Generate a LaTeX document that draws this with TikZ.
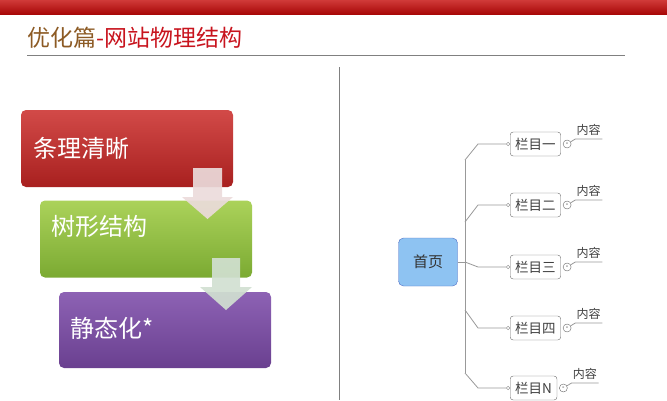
\documentclass[tikz,border=0pt]{standalone}
\usepackage{fontspec}
\setmainfont{Noto Sans CJK SC}
\usetikzlibrary{positioning}

\definecolor{barred}{HTML}{A80808}
\definecolor{bartop}{HTML}{D03A38}
\definecolor{titlebrown}{HTML}{8C5A24}
\definecolor{titlered}{HTML}{C8141E}
\definecolor{redtop}{HTML}{D24A48}
\definecolor{redbot}{HTML}{A8201F}
\definecolor{greentop}{HTML}{ABD25A}
\definecolor{greenbot}{HTML}{7BAA32}
\definecolor{purpletop}{HTML}{8D62B4}
\definecolor{purplebot}{HTML}{6A4090}
\definecolor{homeblue}{HTML}{8EC3F2}

\begin{document}
\begin{tikzpicture}[x=1pt, y=-1pt,
  bigbox/.style = {shape = rectangle, rounded corners = 5pt, minimum width = 212pt, minimum height = 77pt},
  bigtext/.style = {anchor = west, text = white, font = \fontsize{24}{28}\selectfont},
  colbox/.style = {draw = gray!85!black, fill = white, rounded corners = 3pt, anchor = west, minimum height = 24pt, inner xsep = 5pt, text = black!75, font = \fontsize{13.5}{15}\selectfont},
  knob/.style = {draw = gray, fill = white, shape = circle, inner sep = 0pt, minimum size = 3.5pt},
  minus/.style = {draw = gray!80!black, fill = white, shape = circle, inner sep = 0pt, minimum size = 8pt, font = \fontsize{7}{7}\selectfont},
  leaf/.style = {text = black!75, inner sep = 0pt, font = \fontsize{12}{13}\selectfont},
  link/.style = {draw = gray!80, line width = 0.8pt}]
\useasboundingbox (0,0) rectangle (667,400);

% header
\shade[top color = bartop, bottom color = barred] (0,0) rectangle (667,14);
\node[anchor = west, inner sep = 0pt, font = \fontsize{23}{27}\selectfont] (title) at (27,38)
  {\textcolor{titlebrown}{优化篇}\textcolor{titlered}{-网站物理结构}};
\coordinate (rulea) at (27,55);
\coordinate (ruleb) at (625,55);
\draw[gray, line width = 0.8pt] (rulea) -- (ruleb);
\coordinate (sepa) at (339,67);
\coordinate (sepb) at (339,400);
\draw[gray, line width = 1pt] (sepa) -- (sepb);

% left: three steps
\node[bigbox, top color = redtop, bottom color = redbot] (clear) at (127,148.5) {};
\node[bigbox, top color = greentop, bottom color = greenbot] (tree) at (146,239) {};
\node[bigbox, top color = purpletop, bottom color = purplebot, minimum height = 76pt] (static) at (165,330) {};
\node[bigtext] at (30,148) {条理清晰};
\node[bigtext] at (48,226) {树形结构};
\node[bigtext] at (67,328) {静态化*};
\fill[fill = pink!60!gray!40, opacity = 0.92]
  (193,168) -- (222,168) -- (222,197) -- (233,197) -- (207.5,219) -- (182,197) -- (193,197) -- cycle;
\fill[fill = green!20!gray!30, opacity = 0.92]
  (212,258) -- (240,258) -- (240,287) -- (252,287) -- (226,310) -- (200,287) -- (212,287) -- cycle;

% right: site map
\node[draw = homeblue!70!blue!80!black, fill = homeblue, rounded corners = 5pt, minimum width = 59pt, minimum height = 48pt, font = \fontsize{15}{18}\selectfont, text = black!80] (home) at (428,262) {首页};
\coordinate (trunka) at (465,160);
\coordinate (trunkb) at (465,373);
\draw[link] (trunka) -- (trunkb);

\foreach \i/\name/\ty/\cy in {1/栏目一/160/144, 2/栏目二/222/205, 4/栏目四/310/328, 5/栏目N/373/388, 3/栏目三/262/267} {
  \coordinate (t\i) at (465,\ty);
  \coordinate (e\i) at (478,\cy);
  \node[colbox] (c\i) at (510,\cy) {\name};
  \node[knob, left = 0pt of c\i] (k\i) {};
  \node[minus, right = 2pt of c\i] (m\i) {-};
  \coordinate[above right = 5pt and 4pt of m\i.east] (u\i);
  \coordinate[right = 27pt of u\i] (v\i);
  \node[leaf, above right = 3pt and 1pt of u\i] (n\i) {内容};
  \draw[link] (t\i) -- (e\i) -- (k\i);
  \draw[link] (m\i) -- (u\i) -- (v\i);
}
\draw[link] (home.east) -- (t3);
\end{tikzpicture}
\end{document}
